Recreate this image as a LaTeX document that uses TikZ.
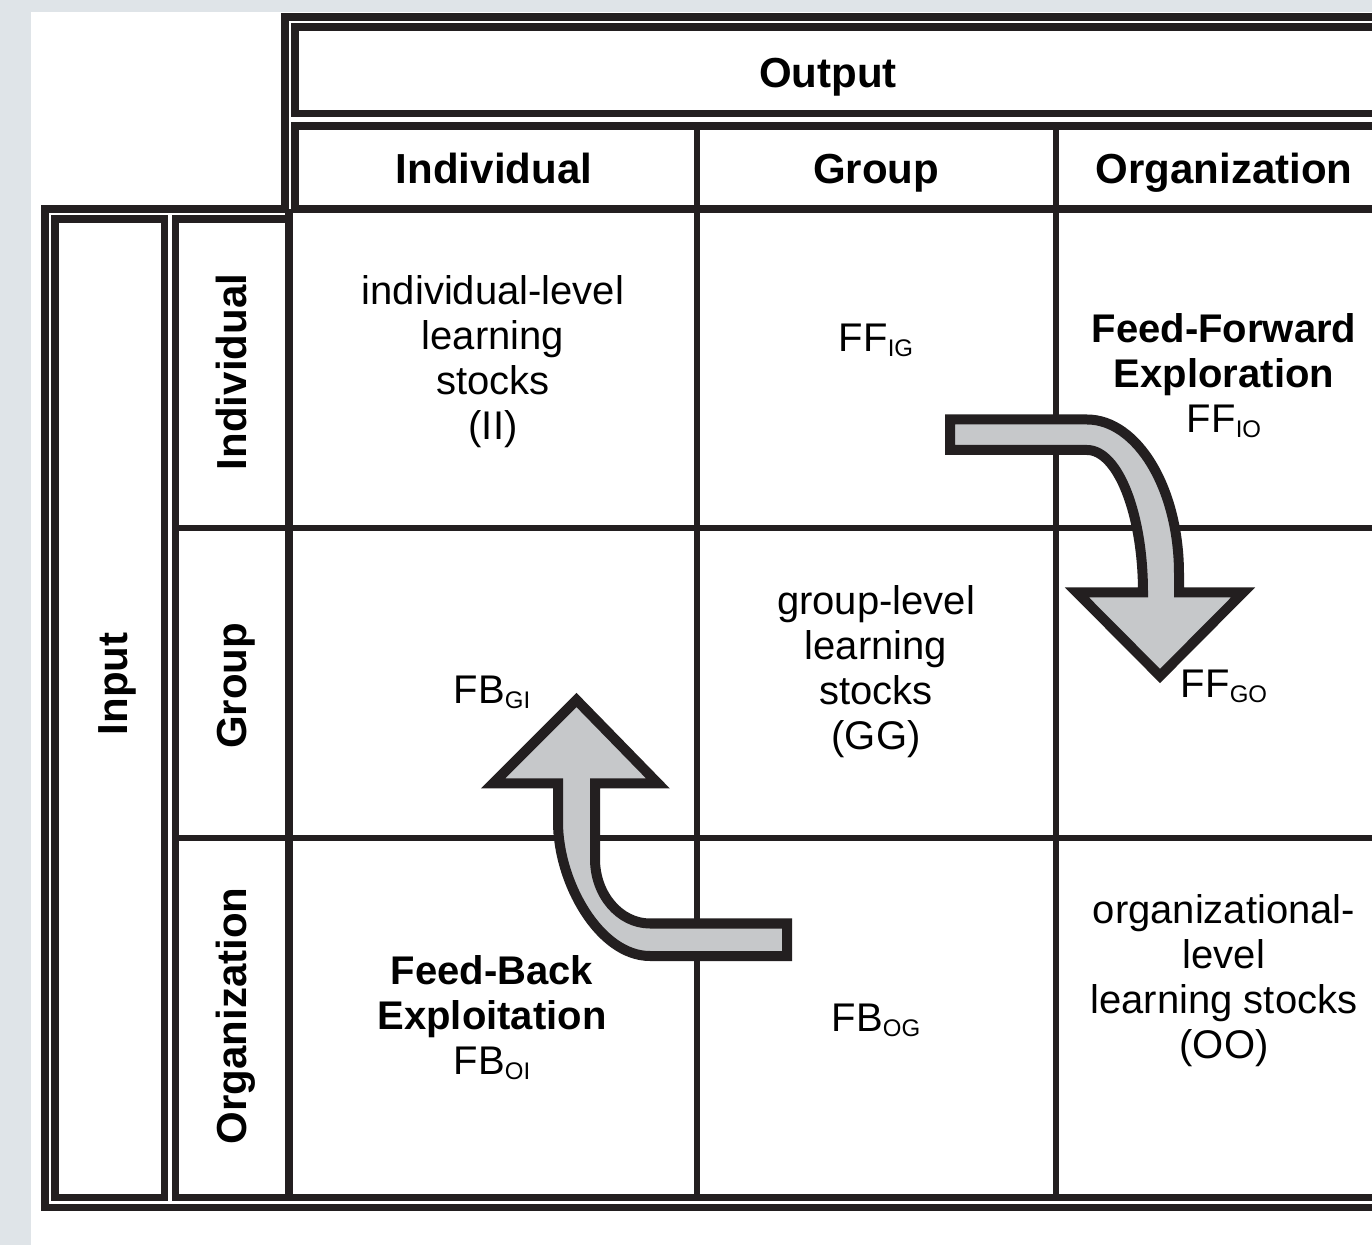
\documentclass[tikz,border=0pt]{standalone}
\usepackage{fontspec}
\setmainfont{Liberation Sans}
\usepackage{tikz}

\definecolor{ink}{HTML}{231F20}
\definecolor{pagebg}{HTML}{DFE4E8}
\definecolor{arrowgray}{HTML}{C6C8CA}

\newcommand{\lsub}[1]{\raisebox{-2.5pt}{\fontsize{12}{12}\selectfont #1}}

\tikzset{
    frame/.style={draw=ink, line width=3.75pt},
    gridline/.style={draw=ink, line width=3.2pt},
    bigarrow/.style={draw=ink, fill=arrowgray, line width=5pt, line join=miter},
    head/.style={anchor=base, inner sep=0pt, font=\fontsize{21}{24}\selectfont\bfseries},
    cell/.style={align=center, inner sep=0pt, font=\fontsize{20}{22.5}\selectfont}
}

\begin{document}
\begin{tikzpicture}[x=0.5pt, y=-0.5pt]
                \useasboundingbox (0,0) rectangle (1372,1245);
                \clip (0,0) rectangle (1372,1245);
                \fill[pagebg] (0,0) rectangle (1372,1245);
                \fill[white] (31,12) rectangle (1372,1245);

                % double frame
                \draw[frame]
                    (1400,17) -- (285,17) -- (285,209) -- (45,209) -- (45,1207.5) -- (1400,1207.5);
                \draw[frame] (295,27) rectangle (1400,113.5);
                \draw[frame] (295,126) rectangle (1400,209);
                \draw[frame] (55,219) rectangle (164.5,1197.5);
                \draw[frame] (175.5,219) rectangle (289,1197.5);
                \draw[frame] (289,209) -- (289,1197.5) -- (1400,1197.5);

                % grid
                \draw[gridline] (697,126) -- (697,1197.5);
                \draw[gridline] (1056,126) -- (1056,1197.5);
                \draw[gridline] (175.5,528) -- (1400,528);
                \draw[gridline] (175.5,838) -- (1400,838);

                % headers
                \node[head] (output) at (828,88) {Output};
                \node[head] (colI) at (494,184) {Individual};
                \node[head] (colG) at (876,184) {Group};
                \node[head] (colO) at (1224,184) {Organization};
                \node[head, rotate=90] (rowI) at (246,372) {Individual};
                \node[head, rotate=90] (rowG) at (246,686) {Group};
                \node[head, rotate=90] (rowO) at (246,1016) {Organization};
                \node[head, rotate=90] (input) at (127,684) {Input};

                % arrows
                \draw[bigarrow]
                    (1160,676) -- (1077,592.5) -- (1143,592.5)
                    .. controls (1143,514) and (1118,450) .. (1087,450)
                    -- (950,450) -- (950,419.5) -- (1087,419.5)
                    .. controls (1137,419.5) and (1179,488) .. (1179,574)
                    -- (1179,592.5) -- (1243,592.5) -- cycle;
                \draw[bigarrow]
                    (576.5,700) -- (658,783.5) -- (595,783.5) -- (595,859)
                    .. controls (595,894.6) and (619.6,923.5) .. (650,923.5)
                    -- (787,923.5) -- (787,956) -- (650,956)
                    .. controls (599.2,956) and (558,882) .. (558,822)
                    -- (558,783.5) -- (493,783.5) -- cycle;

                % cells
                \node[cell] (II) at (493,362) {individual-level\\learning\\stocks\\(II)};
                \node[cell] (IG) at (876,340) {FF\lsub{IG}};
                \node[cell] (IO) at (1224,376) {\textbf{Feed-Forward}\\\textbf{Exploration}\\FF\lsub{IO}};
                \node[cell] (GI) at (492,692) {FB\lsub{GI}};
                \node[cell] (GG) at (876,672) {group-level\\learning\\stocks\\(GG)};
                \node[cell] (GO) at (1224,686) {FF\lsub{GO}};
                \node[cell] (OI) at (492,1018) {\textbf{Feed-Back}\\\textbf{Exploitation}\\FB\lsub{OI}};
                \node[cell] (OG) at (876,1020) {FB\lsub{OG}};
                \node[cell] (OO) at (1224,981) {organizational-\\level\\learning stocks\\(OO)};
            \end{tikzpicture}
\end{document}
